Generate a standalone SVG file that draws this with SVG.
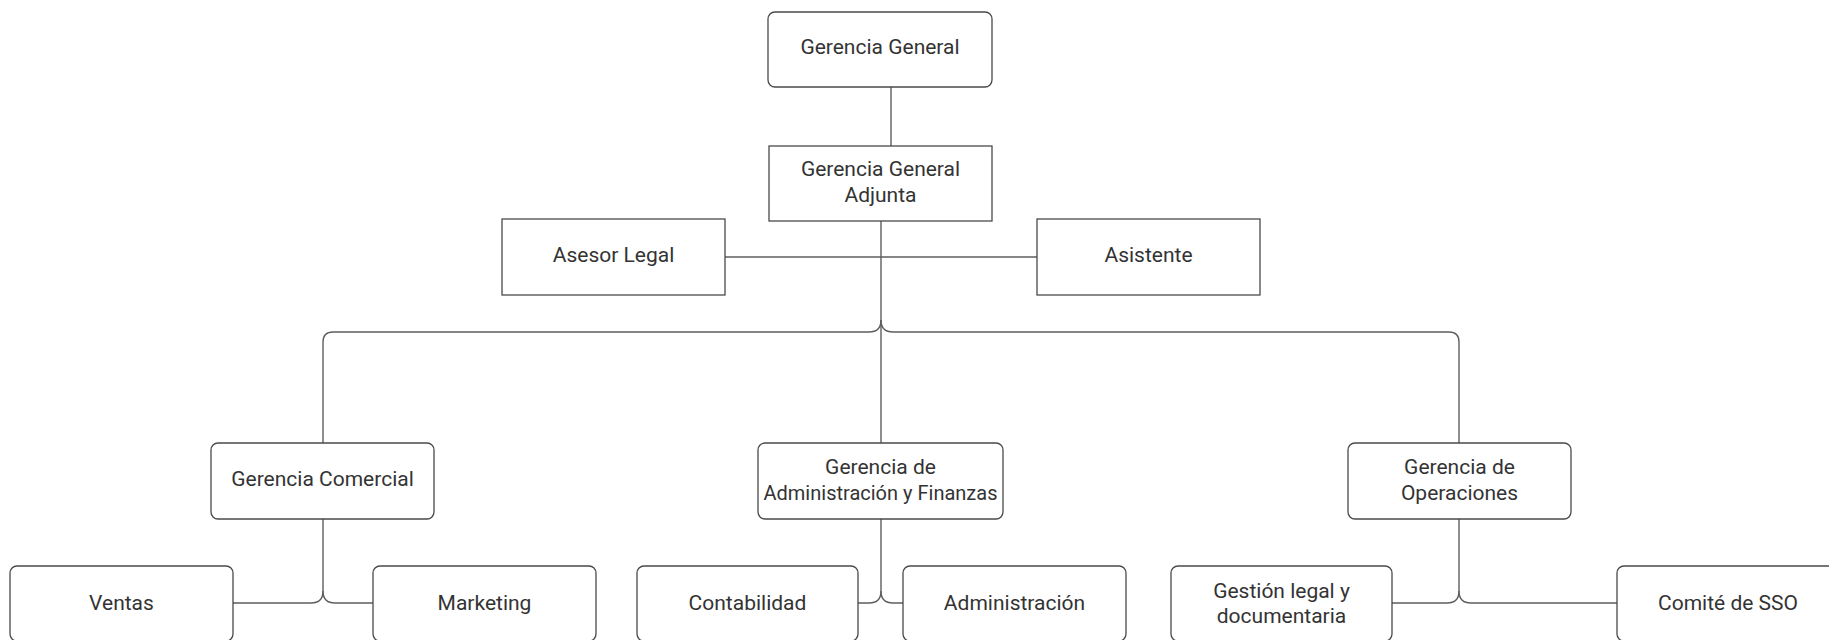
<svg xmlns="http://www.w3.org/2000/svg" width="1829" height="640" viewBox="0 0 1829 640">
<style>
.box{fill:#ffffff;stroke:#4a4a4a;stroke-width:1.3}
.t{font-family:Roboto,"Liberation Sans",sans-serif;font-size:21px;fill:#333333;text-anchor:middle}
.c{fill:none;stroke:#5e5e5e;stroke-width:1.4}
</style>
<rect width="1829" height="640" fill="#ffffff"/>
<g id="connectors">
<path class="c" d="M891 87 L891 146"/>
<path class="c" d="M881 221 L881 443"/>
<path class="c" d="M725 257 L1037 257"/>
<path class="c" d="M881 320 Q881 332 869 332 L333 332 Q323 332 323 342 L323 443"/>
<path class="c" d="M881 320 Q881 332 893 332 L1449 332 Q1459 332 1459 342 L1459 443"/>
<path class="c" d="M323 519 L323 591 Q323 603 311 603 L233 603"/>
<path class="c" d="M323 591 Q323 603 335 603 L373 603"/>
<path class="c" d="M881 519 L881 591 Q881 603 869 603 L858 603"/>
<path class="c" d="M881 591 Q881 603 893 603 L903 603"/>
<path class="c" d="M1459 519 L1459 591 Q1459 603 1447 603 L1392 603"/>
<path class="c" d="M1459 591 Q1459 603 1471 603 L1617 603"/>
</g>
<g id="gerencia-general">
<rect class="box" x="768" y="12" width="224" height="75" rx="7"/>
<text class="t" x="880" y="54">Gerencia General</text>
</g>
<g id="gerencia-general-adjunta">
<rect class="box" x="769" y="146" width="223" height="75"/>
<text class="t" x="880.5" y="175.5">Gerencia General</text>
<text class="t" x="880.5" y="201.5">Adjunta</text>
</g>
<g id="asesor-legal">
<rect class="box" x="502" y="219" width="223" height="76"/>
<text class="t" x="613.5" y="262">Asesor Legal</text>
</g>
<g id="asistente">
<rect class="box" x="1037" y="219" width="223" height="76"/>
<text class="t" x="1148.5" y="262">Asistente</text>
</g>
<g id="gerencia-comercial">
<rect class="box" x="211" y="443" width="223" height="76" rx="7"/>
<text class="t" x="322.5" y="486">Gerencia Comercial</text>
</g>
<g id="gerencia-administracion-finanzas">
<rect class="box" x="758" y="443" width="245" height="76" rx="7"/>
<text class="t" x="880.5" y="473.5">Gerencia de</text>
<text class="t" x="880.5" y="499.5" textLength="234" lengthAdjust="spacingAndGlyphs">Administración y Finanzas</text>
</g>
<g id="gerencia-operaciones">
<rect class="box" x="1348" y="443" width="223" height="76" rx="7"/>
<text class="t" x="1459.5" y="473.5">Gerencia de</text>
<text class="t" x="1459.5" y="499.5">Operaciones</text>
</g>
<g id="ventas">
<rect class="box" x="10" y="566" width="223" height="75" rx="7"/>
<text class="t" x="121.5" y="609.5">Ventas</text>
</g>
<g id="marketing">
<rect class="box" x="373" y="566" width="223" height="75" rx="7"/>
<text class="t" x="484.5" y="609.5">Marketing</text>
</g>
<g id="contabilidad">
<rect class="box" x="637" y="566" width="221" height="75" rx="7"/>
<text class="t" x="747.5" y="609.5">Contabilidad</text>
</g>
<g id="administracion">
<rect class="box" x="903" y="566" width="223" height="75" rx="7"/>
<text class="t" x="1014.5" y="609.5">Administración</text>
</g>
<g id="gestion-legal">
<rect class="box" x="1171" y="566" width="221" height="75" rx="7"/>
<text class="t" x="1281.5" y="597.5">Gestión legal y</text>
<text class="t" x="1281.5" y="622.5">documentaria</text>
</g>
<g id="comite-sso">
<rect class="box" x="1617" y="566" width="223" height="75" rx="7"/>
<text class="t" x="1728" y="609.5">Comité de SSO</text>
</g>
</svg>
